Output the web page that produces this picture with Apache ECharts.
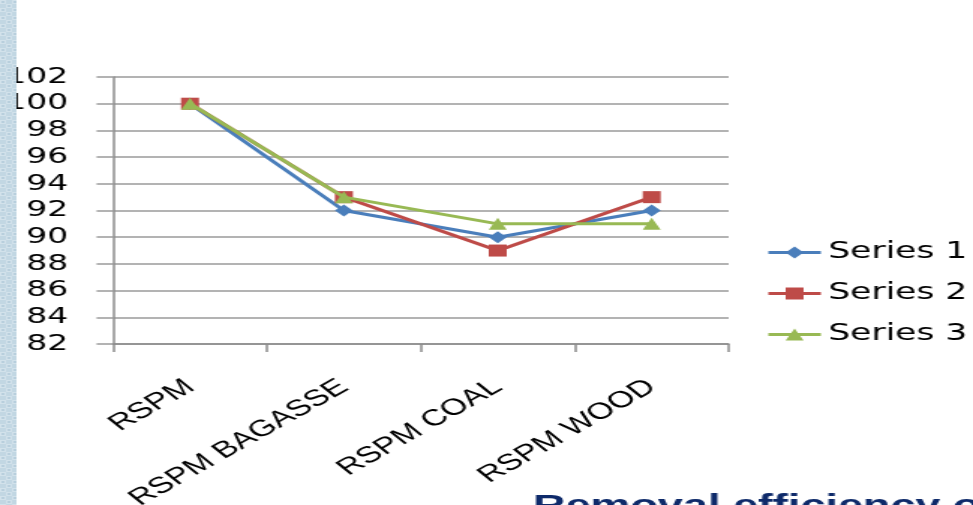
<!DOCTYPE html>
<html>
<head>
<meta charset="utf-8">
<script src="https://cdn.jsdelivr.net/npm/echarts@6/dist/echarts.min.js"></script>
<style>
  html, body { margin: 0; padding: 0; background: #fff; overflow: hidden; width: 973px; height: 505px; }
  /* the slide is drawn at 649px and widened to fill the 973px window */
  #chart { width: 649px; height: 505px; transform: scaleX(1.49923); transform-origin: 0 0; }
</style>
</head>
<body>
<div id="chart"></div>
<script>
// Categories and values for the three series
const categories = ['RSPM', 'RSPM BAGASSE', 'RSPM COAL', 'RSPM WOOD'];
const series1 = [100, 92, 90, 92];
const series2 = [100, 93, 89, 93];
const series3 = [100, 93, 91, 91];
const seriesNames = ['Series 1', 'Series 2', 'Series 3'];
const yMin = 82;
const yMax = 102;
const yStep = 2;
const slideTitle = 'Removal efficiency of RSPM';

const colors = ['#4a7ebb', '#be4b48', '#98b954'];
const symbols = ['diamond', 'rect', 'triangle'];
const values = [series1, series2, series3];

// light blue checkered strip along the left edge of the slide
function makeStripPattern() {
  const c = document.createElement('canvas');
  c.width = 8; c.height = 8;
  const g = c.getContext('2d');
  g.fillStyle = '#c2d7e3'; g.fillRect(0, 0, 8, 8);
  g.fillStyle = '#d2e2eb'; g.fillRect(0, 0, 4, 4); g.fillRect(4, 4, 4, 4);
  g.fillStyle = '#b8cfdd'; g.fillRect(1, 1, 2, 2); g.fillRect(5, 5, 2, 2);
  return c;
}

const chart = echarts.init(document.getElementById('chart'), null, { renderer: 'canvas' });

chart.setOption({
  animation: false,
  backgroundColor: '#ffffff',
  grid: {
    left: 75.4, right: 163, top: 77, bottom: 161,
    containLabel: false,
    outerBoundsMode: 'none'
  },
  legend: {
    orient: 'vertical',
    left: 511,
    top: 241,
    padding: 0,
    itemWidth: 35,
    itemHeight: 15,
    itemGap: 18,
    data: seriesNames,
    lineStyle: { width: 3 },
    textStyle: { fontFamily: 'DejaVu Sans', fontSize: 23, color: '#000' }
  },
  xAxis: {
    type: 'category',
    data: categories,
    boundaryGap: true,
    axisLine: { show: true, lineStyle: { color: '#8c8c8c', width: 1.5 } },
    axisTick: { show: true, length: 8, lineStyle: { color: '#8c8c8c', width: 1.5 } },
    axisLabel: {
      interval: 0,
      rotate: 40,
      margin: 40,
      fontFamily: 'Liberation Sans',
      fontSize: 23,
      color: '#000'
    },
    splitLine: { show: false }
  },
  yAxis: {
    type: 'value',
    min: yMin,
    max: yMax,
    interval: yStep,
    axisLine: { show: true, lineStyle: { color: '#8c8c8c', width: 1.5 } },
    axisTick: { show: true, length: 11, lineStyle: { color: '#9a9a9a', width: 1.5 } },
    axisLabel: {
      margin: 30,
      fontFamily: 'DejaVu Sans',
      fontSize: 22,
      color: '#000',
      formatter: v => String(v)
    },
    splitLine: { show: true, lineStyle: { color: '#9a9a9a', width: 1.5 } }
  },
  series: seriesNames.map((name, i) => ({
    name: name,
    type: 'line',
    data: values[i],
    symbol: symbols[i],
    symbolSize: 12,
    showSymbol: true,
    lineStyle: { color: colors[i], width: 3 },
    itemStyle: { color: colors[i] },
    emphasis: { disabled: true },
    z: 3 + i
  })),
  graphic: [
    {
      type: 'rect',
      left: 0, top: 0, z: 100,
      shape: { x: 0, y: 0, width: 11, height: 505 },
      style: { fill: { image: makeStripPattern(), repeat: 'repeat' } }
    },
    {
      type: 'text',
      x: 355.5, y: 507, z: 100,
      style: {
        text: slideTitle,
        fontFamily: 'Liberation Sans',
        fontWeight: 'bold',
        fontSize: 30,
        fill: '#0e2a6a',
        verticalAlign: 'middle',
        align: 'left'
      }
    }
  ]
});
</script>
</body>
</html>
